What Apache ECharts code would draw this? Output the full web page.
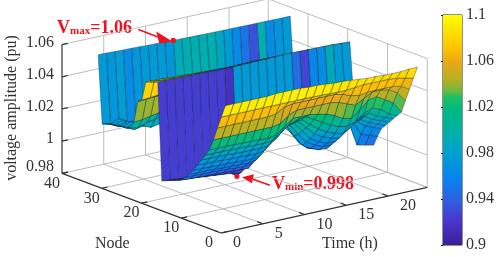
<!DOCTYPE html>
<html><head><meta charset="utf-8">
<style>html,body{margin:0;padding:0;background:#fff}#c{width:498px;height:257px}</style>
<script src="https://cdn.jsdelivr.net/npm/echarts@6/dist/echarts.min.js"></script>
</head><body><div id="c"></div>
<script>
const times=[1,2,3,4,5,6,7,8,9,10,11,12,13,14,15,16,17,18,19,20,21,22,23,24];
const nodes=[1,2,3,4,5,6,7,8,9,10,11,12,13,14,15,16,17,18,19,20,21,22,23,24,25,26,27,28,29,30,31,32,33];
const node01=[1.057,1.057,1.057,1.057,1.057,1.057,1.0575,1.0575,1.0575,1.0575,1.057,1.057,1.0565,1.056,1.056,1.0555,1.055,1.0545,1.0545,1.054,1.054,1.054,1.0545,1.0545];
const node02=[1.049,1.049,1.049,1.049,1.049,1.049,1.049,1.049,1.049,1.049,1.049,1.049,1.0488,1.0486,1.0485,1.0485,1.049,1.0495,1.0495,1.0495,1.0495,1.049,1.048,1.0468];
const node03=[1.0413,1.0413,1.0413,1.0413,1.0413,1.0413,1.0413,1.042,1.045,1.046,1.046,1.046,1.046,1.046,1.046,1.045,1.043,1.042,1.043,1.043,1.043,1.043,1.042,1.039];
const node04=[1.033,1.033,1.033,1.033,1.033,1.033,1.033,1.033,1.034,1.038,1.04,1.04,1.04,1.04,1.04,1.039,1.037,1.035,1.038,1.041,1.041,1.04,1.037,1.031];
const node05=[1.0258,1.0258,1.0258,1.0258,1.0255,1.0255,1.0252,1.025,1.026,1.03,1.034,1.034,1.034,1.033,1.032,1.03,1.027,1.026,1.03,1.035,1.036,1.033,1.03,1.023];
const node06=[1.0217,1.0217,1.0217,1.0215,1.0215,1.0212,1.021,1.021,1.0215,1.025,1.029,1.031,1.032,1.029,1.026,1.023,1.021,1.02,1.022,1.026,1.028,1.026,1.022,1.02];
const node07=[1.0177,1.0177,1.0175,1.0175,1.0172,1.017,1.017,1.0168,1.0175,1.021,1.026,1.029,1.029,1.025,1.021,1.018,1.016,1.015,1.018,1.022,1.024,1.021,1.019,1.017];
const node08=[1.0137,1.0135,1.0135,1.0132,1.013,1.013,1.0128,1.0125,1.0135,1.018,1.023,1.027,1.027,1.022,1.017,1.014,1.012,1.011,1.015,1.019,1.021,1.018,1.016,1.014];
const node09=[1.0096,1.0095,1.0093,1.009,1.009,1.0088,1.0085,1.0085,1.0095,1.015,1.021,1.025,1.025,1.019,1.013,1.01,1.008,1.008,1.012,1.017,1.018,1.015,1.013,1.011];
const node10=[1.0062,1.006,1.006,1.0058,1.0055,1.0055,1.0052,1.005,1.006,1.012,1.019,1.023,1.023,1.016,1.01,1.007,1.005,1.005,1.01,1.015,1.016,1.012,1.01,1.008];
const node11=[1.0035,1.0033,1.003,1.003,1.0028,1.0025,1.0022,1.002,1.003,1.008,1.016,1.021,1.022,1.014,1.007,1.004,1.002,1.002,1.008,1.013,1.015,1.006,1.004,1.0025];
const node12=[1.0007,1.0004,1.0002,1.0,0.9998,0.9996,0.9994,0.9991,0.9989,1.004,1.011,1.0178,1.021,1.0155,1.008,1.0033,1.0016,1.001,1.006,1.011,1.0136,0.9983,0.9971,0.996];
const node13=[0.9994,0.9992,0.999,0.9988,0.9986,0.9984,0.9982,0.998,0.9975,1.01,1.017,1.024,1.027,1.021,1.014,1.009,1.008,1.007,1.012,1.017,1.02,1.013,1.013,1.012];
const node14=[0.9985,0.998,0.9975,0.997,0.9965,0.996,0.9955,0.995,0.994,1.008,1.02,1.026,1.029,1.024,1.018,1.014,1.012,1.012,1.016,1.02,1.022,1.02,1.02,1.02];
const node15=[0.9975,0.997,0.9965,0.996,0.9955,0.995,0.9945,0.994,0.993,1.002,1.02,1.027,1.03,1.026,1.02,1.016,1.015,1.015,1.018,1.022,1.024,1.022,1.022,1.022];
const node16=[0.9965,0.996,0.9955,0.995,0.9945,0.994,0.9935,0.993,0.9925,0.995,1.01,1.025,1.03,1.027,1.022,1.018,1.017,1.017,1.02,1.024,1.025,1.024,1.024,1.024];
const node17=[0.9955,0.995,0.9945,0.994,0.9935,0.993,0.9925,0.992,0.9918,0.988,0.992,0.998,1.004,1.01,1.012,1.014,1.014,1.014,1.016,1.018,1.02,1.02,1.02,1.02];
const node18=[1.0559,1.0558,1.0557,1.0556,1.0555,1.0554,1.0553,1.0552,1.0551,1.055,1.0551,1.0552,1.0553,1.0554,1.0555,1.0556,1.0556,1.0555,1.0554,1.0553,1.0552,1.0551,1.0548,1.0544];
const node19=[1.055,1.0548,1.0546,1.0545,1.0543,1.0542,1.054,1.0539,1.0538,1.0537,1.0537,1.0538,1.0539,1.054,1.054,1.054,1.0538,1.0535,1.0534,1.0532,1.0531,1.053,1.0527,1.0523];
const node20=[1.054,1.0538,1.0536,1.0534,1.0532,1.053,1.0528,1.0526,1.0524,1.0523,1.0523,1.0524,1.0525,1.0525,1.0525,1.0525,1.052,1.0515,1.0514,1.0512,1.0511,1.051,1.0507,1.0503];
const node21=[1.0532,1.053,1.0528,1.0525,1.0522,1.052,1.0517,1.0515,1.0512,1.051,1.051,1.051,1.051,1.051,1.0511,1.0511,1.05,1.0495,1.049,1.049,1.049,1.049,1.048,1.048];
const node22=[1.0411,1.0415,1.042,1.042,1.042,1.042,1.042,1.042,1.042,1.042,1.042,1.042,1.042,1.042,1.042,1.042,1.042,1.042,1.042,1.042,1.042,1.042,1.042,1.042];
const node23=[1.0393,1.0395,1.04,1.04,1.04,1.04,1.04,1.04,1.04,1.04,1.04,1.04,1.04,1.04,1.04,1.04,1.04,1.04,1.04,1.04,1.04,1.04,1.04,1.04];
const node24=[1.0255,1.026,1.027,1.028,1.028,1.028,1.028,1.028,1.028,1.028,1.028,1.028,1.028,1.028,1.028,1.028,1.028,1.028,1.028,1.028,1.028,1.028,1.028,1.028];
const node25=[1.021,1.02,1.022,1.023,1.024,1.024,1.024,1.024,1.024,1.024,1.024,1.024,1.024,1.024,1.024,1.024,1.024,1.024,1.024,1.024,1.024,1.024,1.024,1.024];
const node26=[1.02,1.018,1.019,1.017,1.018,1.02,1.021,1.021,1.021,1.021,1.021,1.021,1.021,1.021,1.021,1.021,1.021,1.021,1.021,1.021,1.021,1.021,1.021,1.021];
const node27=[1.02,1.018,1.019,1.017,1.018,1.02,1.021,1.021,1.021,1.021,1.021,1.021,1.021,1.021,1.021,1.021,1.021,1.021,1.021,1.021,1.021,1.021,1.021,1.021];
const node28=[1.02,1.017,1.019,1.016,1.018,1.02,1.021,1.021,1.021,1.021,1.021,1.021,1.021,1.021,1.021,1.021,1.021,1.021,1.021,1.021,1.021,1.021,1.021,1.021];
const node29=[1.019,1.017,1.019,1.016,1.017,1.019,1.02,1.02,1.02,1.02,1.02,1.02,1.02,1.02,1.02,1.02,1.02,1.02,1.02,1.02,1.02,1.02,1.02,1.02];
const node30=[1.019,1.016,1.018,1.015,1.017,1.019,1.02,1.02,1.02,1.02,1.02,1.02,1.02,1.02,1.02,1.02,1.02,1.02,1.02,1.02,1.02,1.02,1.02,1.02];
const node31=[1.018,1.016,1.018,1.015,1.016,1.018,1.019,1.019,1.019,1.019,1.019,1.019,1.019,1.019,1.019,1.019,1.019,1.019,1.019,1.019,1.019,1.019,1.019,1.019];
const node32=[1.017,1.0155,1.018,1.012,1.0155,1.017,1.017,1.0165,1.0155,1.023,1.024,1.024,1.024,1.024,1.0215,1.017,1.011,1.004,1.0008,1.024,1.011,1.015,1.0165,1.017];
const node33=[1.059,1.059,1.0588,1.0586,1.0585,1.0583,1.0581,1.058,1.0578,1.0576,1.0575,1.0574,1.0573,1.0572,1.0571,1.057,1.057,1.0569,1.0568,1.0568,1.0567,1.0567,1.0566,1.0566];
const voltage=[node01,node02,node03,node04,node05,node06,node07,node08,node09,node10,node11,node12,node13,node14,node15,node16,node17,node18,node19,node20,node21,node22,node23,node24,node25,node26,node27,node28,node29,node30,node31,node32,node33];
// colour data of the cells whose tint differs from their height
const wallTint=[0.9954,0.9954,0.9954,0.9954,0.9954,0.9954,0.9954,0.9954,0.988,1.0165,1.0165,1.0165,1.0165,1.0165,1.0165,1.0165,1.003,0.999,1.0097,1.012,1.0226,1.0165,1.0165,1.0165];
const scallopTint=[1.012,1.013,1.014];

const zTicks=[0.98,1,1.02,1.04,1.06];
const nodeTicks=[0,10,20,30,40];
const timeTicks=[0,5,10,15,20];
const vMax=[10,33,1.0576], vMin=[10,17,0.988];

const T_MAX=24.7,N_MAX=40,Z_MIN=0.98,Z_MAX=1.06;
function project(t,n,v){return [221+8.35*t-3.975*n, 233-1.85*t-1.49*n-(v-Z_MIN)*1610];}

const stops=[[0,'#3a2095'],[0.11,'#4838d0'],[0.195,'#3060e0'],[0.28,'#0a80f0'],[0.4,'#00a0d0'],[0.485,'#00b0a8'],[0.587,'#00b880'],[0.645,'#20c060'],[0.67,'#70b840'],[0.72,'#b8b020'],[0.79,'#e5a818'],[0.85,'#ffc000'],[1,'#ffff00']];
const colourScale=[[0.985,0.06],[0.995,0.12],[1.0,0.14],[1.0035,0.24],[1.02,0.41],[1.06,1]];
function hex(s){return [1,3,5].map(i=>parseInt(s.substr(i,2),16));}
function cmap(c){c=Math.max(0,Math.min(1,c));for(let i=1;i<stops.length;i++){if(c<=stops[i][0]){const a=stops[i-1],b=stops[i],f=(c-a[0])/(b[0]-a[0]),p=hex(a[1]),q=hex(b[1]);return 'rgb('+p.map((v,k)=>Math.round(v+(q[k]-v)*f)).join(',')+')';}}return stops[stops.length-1][1];}
function toC(v){if(v<=colourScale[0][0])return colourScale[0][1];for(let i=1;i<colourScale.length;i++){if(v<=colourScale[i][0]){const a=colourScale[i-1],b=colourScale[i];return a[1]+(b[1]-a[1])*(v-a[0])/(b[0]-a[0]);}}return 1;}
function tint(ni,ti){let v=voltage[ni][ti];if(nodes[ni]===17)v=wallTint[ti];if(nodes[ni]===12&&ti>=20&&ti<=22)v=scallopTint[ti-20];return cmap(toC(v));}

const cells=[];
for(let ni=nodes.length-2;ni>=0;ni--)for(let ti=times.length-2;ti>=0;ti--)cells.push([ti,ni]);

const GRID='#bdbdbd',AXIS='#333';
const segs=[];
function seg(a,b,color,w){segs.push({a,b,color,w});}
[5,10,15,20,T_MAX].forEach(t=>{seg([t,0,Z_MIN],[t,N_MAX,Z_MIN],GRID,1);seg([t,N_MAX,Z_MIN],[t,N_MAX,Z_MAX],GRID,1);});
[10,20,30].forEach(n=>{seg([0,n,Z_MIN],[T_MAX,n,Z_MIN],GRID,1);seg([T_MAX,n,Z_MIN],[T_MAX,n,Z_MAX],GRID,1);});
seg([0,40,Z_MIN],[T_MAX,40,Z_MIN],GRID,1);seg([T_MAX,0,Z_MIN],[T_MAX,40,Z_MIN],GRID,1);
zTicks.slice(1).forEach(v=>{seg([0,N_MAX,v],[T_MAX,N_MAX,v],GRID,1);seg([T_MAX,N_MAX,v],[T_MAX,0,v],GRID,1);});
seg([T_MAX,0,Z_MIN],[T_MAX,0,Z_MAX],GRID,1);
const axisSegs=[];
function aseg(a,b){axisSegs.push({a,b,color:AXIS,w:1.2});}
aseg([0,N_MAX,Z_MIN],[0,N_MAX,Z_MAX]);
aseg([0,N_MAX,Z_MIN],[0,0.9,Z_MIN]);
aseg([0.1,0,Z_MIN],[T_MAX,0,Z_MIN]);
zTicks.forEach(v=>aseg([0,N_MAX,v],[0.7,N_MAX,v]));
nodeTicks.forEach(n=>aseg([0,n,Z_MIN],[0.7,n,Z_MIN]));
timeTicks.forEach(t=>aseg([t,0,Z_MIN],[t,1.4,Z_MIN]));

const labels=[];
const SERIF='"Liberation Serif","Times New Roman",serif';
zTicks.forEach(v=>{const p=project(0,N_MAX,v);labels.push({p,dx:-8,dy:v===0.98?-7:-2,text:String(v),align:'right'});});
nodeTicks.forEach(n=>{const p=project(0,n,Z_MIN);labels.push({p,dx:n===0?-8:-2,dy:10,text:String(n),align:'right'});});
timeTicks.forEach(t=>{const p=project(t,0,Z_MIN);labels.push({p,dx:12,dy:10,text:String(t),align:'left'});});

function projSegSeries(list,z){return {type:'custom',coordinateSystem:'cartesian2d',xAxisIndex:0,yAxisIndex:0,z,silent:true,clip:false,animation:false,progressive:0,data:list.map((_,i)=>[i]),
 renderItem(par,api){const s=list[api.value(0)],a=api.coord(project(...s.a)),b=api.coord(project(...s.b));return {type:'line',shape:{x1:a[0],y1:a[1],x2:b[0],y2:b[1]},style:{stroke:s.color,lineWidth:s.w}};}};}

const option={animation:false,backgroundColor:'#fff',
 grid:[{left:0,top:0,width:498,height:257,show:false},{left:443,top:15,width:19,height:230,show:true,borderColor:'#222',borderWidth:1,backgroundColor:'transparent'}],
 xAxis:[{type:'value',gridIndex:0,min:0,max:498,show:false},{type:'value',gridIndex:1,min:0,max:1,show:false}],
 yAxis:[{type:'value',gridIndex:0,min:0,max:257,inverse:true,show:false},
  {type:'value',gridIndex:1,min:0.9,max:1.1,interval:0.04,position:'right',splitLine:{show:false},axisLine:{show:true,lineStyle:{color:'#222'}},axisTick:{show:true,inside:true,length:2,lineStyle:{color:'#222'}},
   axisLabel:{color:'#333',fontFamily:SERIF,fontSize:16,margin:4,formatter:v=>String(+v.toFixed(2))}}],
 series:[
  projSegSeries(segs,1),
  {type:'custom',coordinateSystem:'cartesian2d',xAxisIndex:0,yAxisIndex:0,z:2,silent:true,clip:false,animation:false,progressive:0,data:cells,
   renderItem(par,api){const ti=api.value(0),ni=api.value(1);
    const pt=(i,j)=>api.coord(project(times[i],nodes[j],voltage[j][i]));
    return {type:'polygon',shape:{points:[pt(ti,ni),pt(ti+1,ni),pt(ti+1,ni+1),pt(ti,ni+1)]},style:{fill:tint(ni,ti),stroke:'rgba(15,35,50,0.7)',lineWidth:0.5}};}},
  projSegSeries(axisSegs,3),
  {type:'custom',coordinateSystem:'cartesian2d',xAxisIndex:0,yAxisIndex:0,z:4,silent:true,clip:false,animation:false,data:labels.map((_,i)=>[i]),
   renderItem(par,api){const l=labels[api.value(0)],c=api.coord(l.p);return {type:'text',x:c[0]+l.dx,y:c[1]+l.dy,style:{text:l.text,fill:'#333',font:'16px '+SERIF,textAlign:l.align,textVerticalAlign:'middle'}};}},
  {type:'custom',coordinateSystem:'cartesian2d',xAxisIndex:0,yAxisIndex:0,z:5,silent:true,clip:false,animation:false,data:[vMax,vMin],
   renderItem(par,api){const i=par.dataIndex,m=i===0?vMax:vMin,c=api.coord(project(m[0],m[1],m[2]));
    const head=i===0?[[-1,1],[-17,-9],[-14,3]]:[[5,1],[17,-2],[15,7]];
    const tail=i===0?[-35,-11]:[33,9];const from=i===0?[-14,-3]:[16,3];
    const dot={type:'circle',shape:{cx:c[0],cy:c[1],r:2.6},style:{fill:'#f01020'}};
    return {type:'group',children:[
     {type:'line',shape:{x1:c[0]+tail[0],y1:c[1]+tail[1],x2:c[0]+from[0],y2:c[1]+from[1]},style:{stroke:'#f01020',lineWidth:1.6}},
     {type:'polygon',shape:{points:head.map(h=>[c[0]+h[0],c[1]+h[1]])},style:{fill:'#f01020'}},dot]};}},
  {type:'custom',coordinateSystem:'cartesian2d',xAxisIndex:1,yAxisIndex:1,z:2,silent:true,clip:false,animation:false,data:[[0,0.9,1,1.1]],
   renderItem(par,api){const a=api.coord([0,0.9]),b=api.coord([1,1.1]);
    return {type:'rect',shape:{x:a[0],y:b[1],width:b[0]-a[0],height:a[1]-b[1]},style:{fill:{type:'linear',x:0,y:1,x2:0,y2:0,colorStops:stops.map(s=>({offset:s[0],color:s[1]}))}}};}}
 ],
 graphic:[
  {type:'text',left:95,top:236,style:{text:'Node',fill:'#333',font:'16px '+SERIF}},
  {type:'text',left:322,top:236,style:{text:'Time (h)',fill:'#333',font:'16px '+SERIF}},
  {type:'text',x:12,y:108,rotation:Math.PI/2,style:{text:'voltage amplitude (pu)',fill:'#333',font:'16px '+SERIF,textAlign:'center',textVerticalAlign:'middle'}},
  {type:'text',left:57,top:19,style:{rich:{v:{fill:'#f01020',font:'bold 18px '+SERIF},s:{fill:'#f01020',font:'bold 11px '+SERIF,verticalAlign:'bottom',padding:[5,0,0,0]}},text:'{v|V}{s|max}{v|=1.06}'}},
  {type:'text',left:272,top:175,style:{rich:{v:{fill:'#f01020',font:'bold 18px '+SERIF},s:{fill:'#f01020',font:'bold 11px '+SERIF,verticalAlign:'bottom',padding:[5,0,0,0]}},text:'{v|V}{s|min}{v|=0.998}'}}
 ]};
const chart=echarts.init(document.getElementById('c'),null,{renderer:'canvas'});
chart.setOption(option);
</script></body></html>
